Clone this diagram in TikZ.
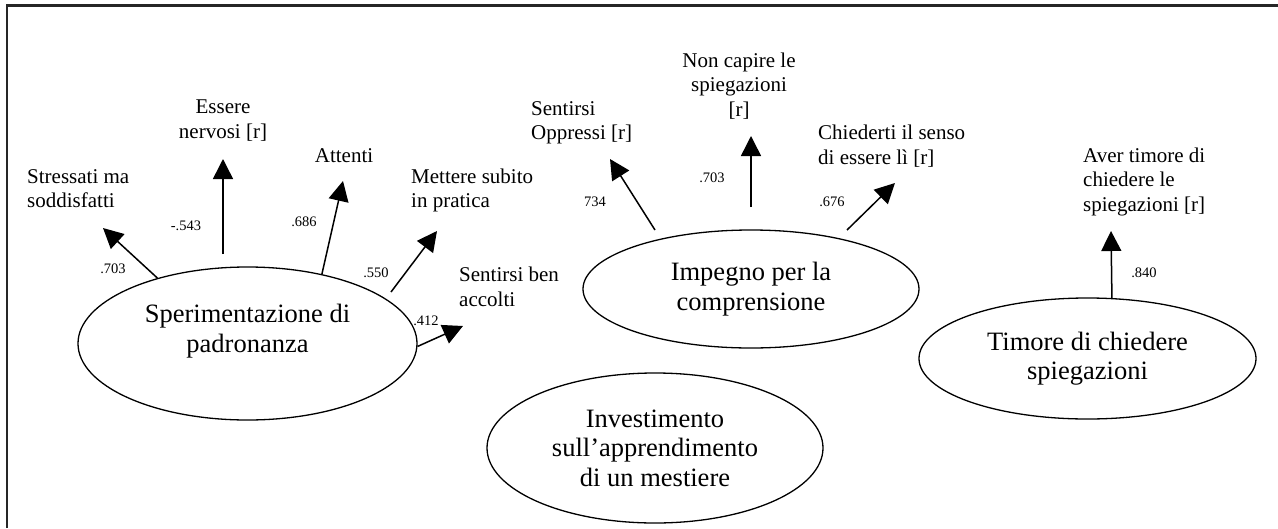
\documentclass[tikz,border=0pt]{standalone}
\usepackage{fontspec}
\setmainfont{Liberation Serif}
\usetikzlibrary{arrows.meta,shapes.geometric}
\tikzset{
  lat/.style={draw, ellipse, line width=1.3pt, inner sep=0pt, align=center,
    font=\fontsize{26.5}{29.5}\selectfont},
  item/.style={inner sep=0pt, font=\fontsize{21}{24.5}\selectfont},
  coef/.style={inner sep=0pt, font=\fontsize{14.5}{16}\selectfont},
  load/.style={line width=1.5pt, -{Triangle[length=20pt,width=20pt]}},
  frame/.style={line width=2.2pt, draw=black!85}
}
\begin{document}
\begin{tikzpicture}[x=1pt,y=-1pt]
\useasboundingbox (0,0) rectangle (1278,528);
\draw[frame] (7,528) |- (1278,5.5);

% latent ellipses
\node[lat, minimum width=339pt, minimum height=153pt,
  label={[lat, draw=none, yshift=12.5pt]center:{Sperimentazione di\\padronanza}}] (e1) at (247.5,343.5) {};
\node[lat, minimum width=336pt, minimum height=118pt] (e2) at (751,289) {Impegno per la\\comprensione};
\node[lat, minimum width=336pt, minimum height=150pt] (e3) at (655,448) {Investimento\\sull’apprendimento\\di un mestiere};
\node[lat, minimum width=337pt, minimum height=121pt] (e4) at (1087.5,358.5) {Timore di chiedere\\spiegazioni};

% indicator labels (anchor = baseline of last line)
\node[item, align=left, anchor=base west] (i1) at (27,207.5) {Stressati ma\\soddisfatti};
\node[item, align=center, anchor=base] (i2) at (223,138) {Essere\\nervosi [r]};
\node[item, anchor=base] (i3) at (344,162) {Attenti};
\node[item, align=left, anchor=base west] (i4) at (411,207.5) {Mettere subito\\in pratica};
\node[item, align=left, anchor=base west] (i5) at (459,306) {Sentirsi ben\\accolti};
\node[item, align=left, anchor=base west] (j1) at (531,139.5) {Sentirsi\\Oppressi [r]};
\node[item, align=center, anchor=base] (j2) at (739,116) {Non capire le\\spiegazioni\\{[r]}};
\node[item, align=left, anchor=base west] (j3) at (818,164) {Chiederti il senso\\di essere lì [r]};
\node[item, align=left, anchor=base west] (k1) at (1083,211) {Aver timore di\\chiedere le\\spiegazioni [r]};

% arrow end points
\coordinate (t1) at (103,228);
\coordinate (s2) at (223,254); \coordinate (t2) at (223,159);
\coordinate (t3) at (343,181);
\coordinate (s4) at (391,292); \coordinate (t4) at (437,231);
\coordinate (t5) at (463,326);
\coordinate (s6) at (655,230); \coordinate (t6) at (610,159);
\coordinate (s7) at (751,207); \coordinate (t7) at (751,136);
\coordinate (s8) at (847,230); \coordinate (t8) at (895,183);
\coordinate (t9) at (1111,231);

\draw[load] (e1.144.3) -- (t1);
\draw[load] (s2) -- (t2);
\draw[load] (e1.43.8) -- (t3);
\draw[load] (s4) -- (t4);
\draw[load] (e1.-1.5) -- (t5);
\draw[load] (s6) -- (t6);
\draw[load] (s7) -- (t7);
\draw[load] (s8) -- (t8);
\draw[load] (e4.68.8) -- (t9);

% coefficients
\node[coef] (c1) at (113,269) {.703};
\node[coef] (c2) at (186,226) {-.543};
\node[coef] (c3) at (304,222) {.686};
\node[coef] (c4) at (376,273) {.550};
\node[coef] (c5) at (426,321) {.412};
\node[coef] (c6) at (595,202) {734};
\node[coef] (c7) at (712,178) {.703};
\node[coef] (c8) at (832,202) {.676};
\node[coef] (c9) at (1144,273) {.840};
\end{tikzpicture}
\end{document}
